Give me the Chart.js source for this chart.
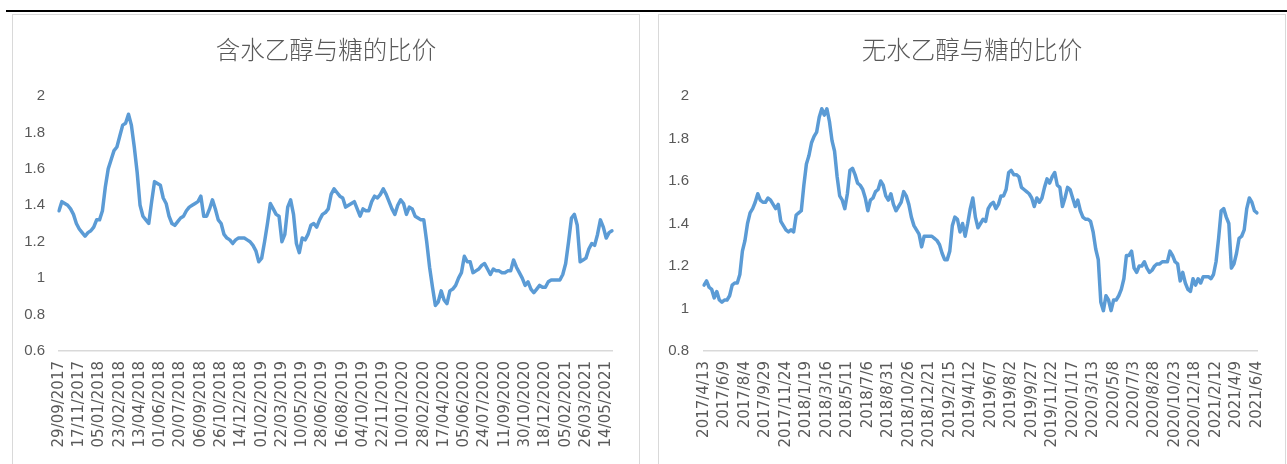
<!DOCTYPE html>
<html><head><meta charset="utf-8">
<script src="https://cdn.jsdelivr.net/npm/chart.js@4.4.0/dist/chart.umd.min.js"></script>
<style>
html,body{margin:0;padding:0;background:#fff;width:1287px;height:464px;overflow:hidden;position:relative}
.topline{position:absolute;left:6px;top:10px;width:1281px;height:2px;background:#000}
.box{position:absolute;top:14px;height:470px;border:1.5px solid #d9d9d9;border-bottom:none;box-sizing:border-box}
canvas{position:absolute}
</style></head><body>
<div class="topline"></div>
<div class="box" style="left:12px;width:628px"></div>
<div class="box" style="left:658px;width:628px"></div>
<canvas id="c1" width="628" height="449" style="left:12px;top:15px"></canvas>
<canvas id="c2" width="626" height="449" style="left:659px;top:15px"></canvas>
<script>
// ---- data ----
const hydrousTitle = '含水乙醇与糖的比价';
const anhydrousTitle = '无水乙醇与糖的比价';

// tick labels shown on the axes (every 7th / 8th weekly point)
const hydrousTickLabels = ['29/09/2017','17/11/2017','05/01/2018','23/02/2018','13/04/2018','01/06/2018','20/07/2018','06/09/2018','26/10/2018','14/12/2018','01/02/2019','22/03/2019','10/05/2019','28/06/2019','16/08/2019','04/10/2019','22/11/2019','10/01/2020','28/02/2020','17/04/2020','05/06/2020','24/07/2020','11/09/2020','30/10/2020','18/12/2020','05/02/2021','26/03/2021','14/05/2021'];
const anhydrousTickLabels = ['2017/4/13','2017/6/9','2017/8/4','2017/9/29','2017/11/24','2018/1/19','2018/3/16','2018/5/11','2018/7/6','2018/8/31','2018/10/26','2018/12/21','2019/2/15','2019/4/12','2019/6/7','2019/8/2','2019/9/27','2019/11/22','2020/1/17','2020/3/13','2020/5/8','2020/7/3','2020/8/28','2020/10/23','2020/12/18','2021/2/12','2021/4/9','2021/6/4'];

const hydrousRatio = [
1.37,1.42,1.41,1.40,1.38,1.35,1.30,1.27,1.25,1.23,
1.25,1.26,1.28,1.32,1.32,1.37,1.50,1.60,1.65,1.70,
1.72,1.78,1.84,1.85,1.90,1.84,1.72,1.58,1.40,1.34,
1.32,1.30,1.42,1.53,1.52,1.51,1.44,1.41,1.34,1.30,
1.29,1.31,1.33,1.34,1.37,1.39,1.40,1.41,1.42,1.45,
1.34,1.34,1.38,1.43,1.38,1.32,1.30,1.24,1.22,1.21,
1.19,1.21,1.22,1.22,1.22,1.21,1.20,1.18,1.15,1.09,
1.11,1.20,1.30,1.41,1.38,1.35,1.34,1.20,1.24,1.39,
1.43,1.35,1.19,1.14,1.22,1.21,1.24,1.29,1.30,1.28,
1.32,1.35,1.36,1.38,1.46,1.49,1.47,1.45,1.44,1.39,
1.40,1.41,1.42,1.38,1.34,1.38,1.37,1.37,1.42,1.45,
1.44,1.46,1.49,1.46,1.42,1.38,1.35,1.40,1.43,1.41,
1.35,1.39,1.38,1.34,1.33,1.32,1.32,1.20,1.06,0.95,
0.85,0.87,0.93,0.88,0.86,0.93,0.94,0.96,1.00,1.03,
1.12,1.09,1.09,1.03,1.04,1.05,1.07,1.08,1.05,1.02,
1.05,1.04,1.04,1.03,1.03,1.04,1.04,1.10,1.06,1.03,
1.00,0.96,0.98,0.94,0.92,0.94,0.96,0.95,0.95,0.98,
0.99,0.99,0.99,0.99,1.02,1.08,1.20,1.33,1.35,1.29,
1.09,1.10,1.11,1.16,1.19,1.18,1.24,1.32,1.28,1.22,
1.25,1.26
];

const anhydrousRatio = [
1.11,1.13,1.10,1.09,1.05,1.08,1.04,1.03,1.04,1.04,
1.06,1.11,1.12,1.12,1.16,1.27,1.32,1.40,1.45,1.47,
1.50,1.54,1.51,1.50,1.50,1.52,1.51,1.49,1.47,1.49,
1.41,1.39,1.37,1.36,1.37,1.36,1.44,1.45,1.46,1.58,
1.68,1.72,1.78,1.81,1.83,1.90,1.94,1.91,1.94,1.88,
1.79,1.74,1.62,1.53,1.51,1.47,1.54,1.65,1.66,1.63,
1.59,1.58,1.56,1.52,1.46,1.51,1.52,1.55,1.56,1.60,
1.58,1.53,1.51,1.54,1.49,1.46,1.48,1.50,1.55,1.53,
1.49,1.43,1.39,1.37,1.35,1.29,1.34,1.34,1.34,1.34,
1.33,1.32,1.30,1.26,1.23,1.23,1.27,1.39,1.43,1.42,
1.36,1.40,1.34,1.40,1.47,1.52,1.43,1.38,1.40,1.42,
1.41,1.47,1.49,1.50,1.47,1.49,1.53,1.53,1.56,1.64,
1.65,1.63,1.63,1.62,1.57,1.56,1.55,1.54,1.52,1.48,
1.52,1.50,1.52,1.57,1.61,1.59,1.62,1.64,1.58,1.57,
1.48,1.52,1.57,1.56,1.52,1.48,1.51,1.46,1.43,1.42,
1.42,1.41,1.36,1.28,1.23,1.03,0.99,1.06,1.04,0.99,
1.04,1.04,1.06,1.09,1.14,1.25,1.25,1.27,1.19,1.17,
1.20,1.20,1.22,1.19,1.17,1.18,1.20,1.21,1.21,1.22,
1.22,1.22,1.27,1.25,1.22,1.21,1.13,1.17,1.12,1.09,
1.08,1.14,1.11,1.14,1.12,1.15,1.15,1.15,1.14,1.16,
1.22,1.33,1.46,1.47,1.43,1.40,1.19,1.21,1.26,1.33,
1.34,1.37,1.47,1.52,1.50,1.46,1.45
];

const hydrousStep = 7, anhydrousStep = 8;

// ---- weekly category labels derived from the tick labels ----
function pad(n){return n<10?'0'+n:''+n;}
function weekly(ticks, step, n, parse, fmt){
  const out = [];
  for (let i = 0; i < n; i++) {
    const t = Math.floor(i/step), k = i%step;
    if (k === 0 && t < ticks.length) { out.push(ticks[t]); continue; }
    const base = parse(ticks[Math.min(t, ticks.length-1)]);
    const kk = t < ticks.length ? k : i - (ticks.length-1)*step;
    out.push(fmt(new Date(base.getTime() + kk*7*86400000)));
  }
  return out;
}
const parseDMY = s => {const [d,m,y]=s.split('/').map(Number); return new Date(Date.UTC(y,m-1,d));};
const fmtDMY = d => pad(d.getUTCDate())+'/'+pad(d.getUTCMonth()+1)+'/'+d.getUTCFullYear();
const parseYMD = s => {const [y,m,d]=s.split('/').map(Number); return new Date(Date.UTC(y,m-1,d));};
const fmtYMD = d => d.getUTCFullYear()+'/'+(d.getUTCMonth()+1)+'/'+d.getUTCDate();

const hydrousDates = weekly(hydrousTickLabels, hydrousStep, hydrousRatio.length, parseDMY, fmtDMY);
const anhydrousDates = weekly(anhydrousTickLabels, anhydrousStep, anhydrousRatio.length, parseYMD, fmtYMD);

function makeChart(id, title, cats, vals, step, yMin, yMax, yWidth, yPad, rightWidth){
  return new Chart(document.getElementById(id), {
    type: 'line',
    data: { labels: cats, datasets: [{ data: vals, borderColor: '#5B9BD5', borderWidth: 3.5,
      pointRadius: 0, tension: 0, fill: false, borderJoinStyle: 'round', borderCapStyle: 'round' }] },
    options: {
      responsive: false, animation: false, devicePixelRatio: 1,
      layout: { padding: 0 },
      plugins: {
        legend: { display: false }, tooltip: { enabled: false },
        title: { display: true, text: title, color: '#595959',
          font: { family: '"Noto Sans CJK SC", sans-serif', size: 24.5, weight: 300, lineHeight: 1.2 },
          padding: { top: 20, bottom: 31.6 } }
      },
      scales: {
        x: {
          grid: { display: false, drawTicks: false },
          border: { display: true, color: '#d9d9d9', width: 1.5 },
          afterFit: s => { s.height = 113; },
          ticks: { autoSkip: false, minRotation: 90, maxRotation: 90, padding: 10,
            color: '#595959', font: { family: '"DejaVu Sans", sans-serif', size: 15 },
            callback: function(v, i){ return i % step === 0 ? this.getLabelForValue(v) : ''; } }
        },
        y: {
          min: yMin, max: yMax,
          grid: { display: false, drawTicks: false },
          border: { display: false },
          afterFit: s => { s.width = yWidth; },
          ticks: { stepSize: 0.2, padding: yPad, color: '#595959',
            font: { family: '"Liberation Sans Narrow", "Liberation Sans", sans-serif', size: 15 },
            callback: v => String(Math.round(v*10)/10) }
        },
        yRightSpace: {
          position: 'right', display: true,
          grid: { display: false, drawTicks: false },
          border: { display: false },
          ticks: { display: false },
          afterFit: s => { s.width = rightWidth; }
        }
      }
    }
  });
}

makeChart('c1', hydrousTitle, hydrousDates, hydrousRatio, hydrousStep, 0.6, 2, 47, 14, 20);
makeChart('c2', anhydrousTitle, anhydrousDates, anhydrousRatio, anhydrousStep, 0.8, 2, 45, 15, 18);
</script>
</body></html>
